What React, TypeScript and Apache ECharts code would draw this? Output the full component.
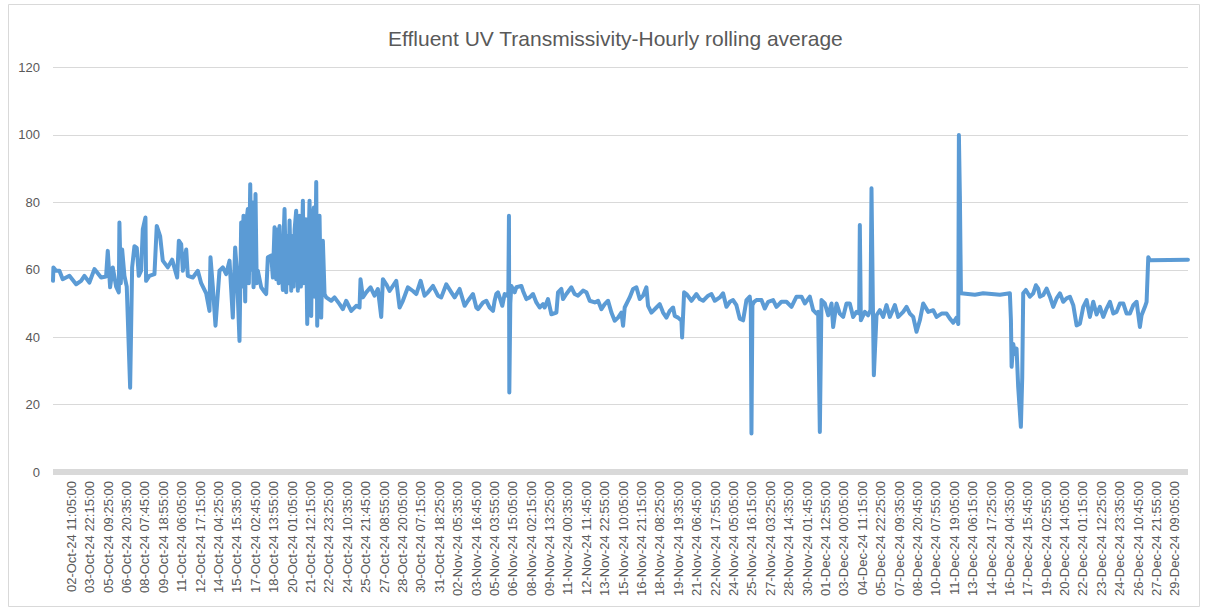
import React, { useEffect, useRef } from "react";
import * as echarts from "echarts";

const TITLE = "Effluent UV Transmissivity-Hourly rolling average";

// x axis: minutes after 30-Sep-24 23:55, one label every 2110 minutes (35 h 10 min)
const ORIGIN_UTC = Date.UTC(2024, 8, 30, 23, 55);
const LABEL_STEP_MIN = 2110;
const X_MAX_MIN = 130210;
const MONTHS = ["Jan", "Feb", "Mar", "Apr", "May", "Jun", "Jul", "Aug", "Sep", "Oct", "Nov", "Dec"];

const Y_MIN = 0;
const Y_MAX = 120;
const Y_STEP = 20;

// hours after origin, and UV transmissivity values (%)
const hoursOct = [
  0, 0.8, 5.9, 12.2, 18.6, 31.4, 44.2, 53.7, 60.1, 69.6, 79.2, 92, 101.5, 104.7, 109.2, 114.3, 120.7, 125.8, 127,
  129.6, 132.2, 136.6, 141, 147.5, 151.3, 155.7, 160.2, 164, 168.5, 171.7, 176.8, 178, 184.4, 194, 198.4, 204.8,
  209.9, 219.5, 227.8, 237.4, 240.6, 245.1, 248.3, 254.7, 257.8, 267.4, 276.9, 283.3, 292.9, 299.2, 301.1, 305.6,
  310.7, 318.3, 324.7, 331.1, 337.5, 343.8, 348.3, 351.5,
  356.6, 359.8, 361.5, 364.2, 367.5, 369.5, 372.5, 374.5, 377.1, 379.5, 381, 383.4, 385, 387.2, 389.5, 391.6,
  398.1, 402.5, 407.6, 410.8, 417.2,
  420.4, 423.6, 426.8, 430, 431.5, 433.2, 434.8, 436.4, 439.5, 441, 442.7, 445.9, 448, 450, 452.3, 455.5, 458, 460,
  462, 465, 468.2, 471.4, 474, 477.8, 479.5, 481, 483.5, 486.1, 488, 490.5, 493.7, 496, 498.8, 500.8, 503.3, 505.2,
  507.5, 509.6, 512.8, 516,
  519.2, 522.4, 532, 538.3, 547.9, 554.2, 560.6, 570.2, 579.8, 586.1, 588, 592.5, 598.9, 607.2, 614.8, 621.2, 627.6,
  630.8, 637.2, 643.5, 656.3, 662.7, 669, 678.6, 688.2, 694.6, 702.9, 710.5, 716.9, 726.5, 736, 742.4,
];
const uvtOct = [
  56.7, 60.7, 59.7, 59.7, 57.2, 58.2, 55.7, 56.7, 58.2, 56.2, 60.2, 57.7, 58, 65.6, 54.8, 60.7, 55, 53.3, 74,
  56, 66, 58.2, 55, 25, 60.7, 67, 66.5, 58.2, 59.7, 72, 75.5, 56.7, 58.2, 58.7, 73, 70,
  62.7, 60.7, 63, 57.7, 68.6, 67.6, 59.7, 66, 58.2, 57.7, 59.7, 56, 53, 47.8, 63.7, 55,
  43.4, 59.7, 60.7, 58.7, 62.7, 45.8, 66.6, 59.7,
  38.9, 74, 55, 76, 50.6, 74, 78, 56, 85.4, 60, 80, 54.8, 58, 82.5, 56, 59.7,
  54.8, 53.8, 52.8, 63.7, 64.2,
  57.7, 72.6, 57.2, 72, 56, 73, 58, 63.7, 54, 70, 78, 53.3, 70, 56, 74.6, 53.8, 70, 55,
  72, 77.5, 53.8, 76, 55, 80.5, 56, 65, 75, 43.9, 62, 80.5, 46.3, 74, 78.5, 52, 86, 43.4,
  72, 76, 45.8, 68.6,
  52.8, 51.8, 50.8, 51.8, 49.8, 48.3, 50.8, 47.8, 49.3, 48.8, 57.2, 51.8, 53.3, 54.8, 52.3, 54.3, 46,
  57.2, 55.7, 53.7, 56.7, 48.8, 50.8, 54.8, 53.7, 52.8, 56.7, 52.3, 53.3, 55.2, 52.3, 51.8,
];

const hoursNov = [
  752, 761.6, 767.9, 777.5, 787.1, 793.4, 803, 809.4, 812.6, 822.2, 828.5, 834.9, 841.3, 844.4, 847.6, 850.8, 854,
  859.1, 863.5, 868, 870.6, 871.8, 872.5, 874.4, 876.3, 882.7, 885.9, 895.5, 898.7, 905.1, 911.4, 917.8, 924.2,
  930.5, 936.9, 940.1, 946.5, 952.9, 962.5, 965.6, 972, 975.2, 981.6, 991.2, 997.5, 1003.9, 1013.5, 1019.9, 1026.2,
  1035.8, 1042.2, 1048.6, 1054.9, 1061.3, 1067.7, 1074, 1080.4, 1086.8, 1090, 1093.1, 1102.7, 1109.1, 1115.5,
  1121.8, 1128.2, 1134.6, 1137.8, 1144.2, 1153.8, 1160.1, 1166.5, 1172.9, 1179.2, 1185.6, 1188.8, 1195.2, 1201.6,
  1202.9, 1206.7, 1211.2, 1220.8, 1230.3, 1236.7, 1243.1, 1252.7, 1259, 1265.4, 1275, 1281.2, 1287.6, 1294, 1300.3,
  1306.7, 1313.1, 1319.5, 1325.9, 1332.2, 1334.2, 1335.5, 1337.3, 1340.5, 1345, 1354.6, 1360.9, 1367.3, 1376.9,
  1383.3, 1392.8, 1402.4, 1412, 1421.6, 1431.2, 1437.5, 1447.1, 1453.5, 1459.9, 1463,
];
const uvtNov = [
  55.7, 53.3, 51.8, 54.3, 49.3, 50.8, 52.8, 48.8, 48.3, 50.3, 50.8, 48.8, 47.8, 50.8, 52.8, 53.3, 51.8,
  49.3, 52.8, 52.3, 53.3, 76, 23.6, 50, 55.2, 53.3, 54.8, 55.2, 53.7, 51.3, 51.8, 52.8, 50.3,
  48.8, 49.8, 48.8, 51.3, 46.8, 47.3, 53.3, 54.3, 51.3, 52.8, 54.8, 52.8, 52.3, 53.8, 53.3, 50.8,
  50.3, 50.8, 48.3, 49.8, 50.8, 47.3, 44.9, 45.8, 47.3, 43.4, 48.8, 51.8, 54.3, 54.8,
  51.3, 52.3, 54.8, 49.3, 47.3, 48.8, 49.8, 47.3, 45.8, 47.8, 48.8, 46.3, 45.8, 44.9,
  39.9, 53.3, 52.8, 50.8, 52.8, 51.3, 50.8, 52.3, 52.8, 50.8, 51.8, 53, 49, 50.5, 51,
  49.5, 45.5, 45, 51, 52, 49, 11.4, 49.5, 50.5, 51, 51, 48.5, 50.5, 51,
  49, 50.5, 50.5, 49, 52, 52, 50, 52, 48, 47, 47.5,
];

const hoursDec = [
  1466.2, 1469.4, 1475.8, 1482.2, 1488.6, 1491.7, 1498.1, 1504.4, 1510.8, 1517.2, 1523.5, 1529.9, 1536.3, 1541.4,
  1542.7, 1544.6, 1552.3, 1558.6, 1563.1, 1565, 1567.6, 1569.5, 1574.6, 1581, 1587.3, 1593.7, 1600.1, 1609.7, 1616,
  1625.6, 1632, 1638.4, 1644.8, 1651.1, 1657.5, 1663.9, 1673.5, 1683, 1689.4, 1699, 1708.6, 1714.9, 1721.3, 1727.7,
  1730.9, 1732.1, 1734, 1736, 1762.8, 1778.5, 1810.5, 1829.6, 1831.6, 1832.9, 1836, 1839.2, 1842.4, 1845.5, 1850.6,
  1853.2, 1855.1, 1860.2, 1867.9, 1874.2, 1879.4, 1883.8, 1887, 1893.4, 1899.8, 1906.1, 1912.5, 1918.9, 1925.3,
  1931.6, 1938, 1944.4, 1950.8, 1957.2, 1963.5, 1969.9, 1976.3, 1982.6, 1989, 1995.4, 2001.8, 2008.1, 2014.5,
  2020.9, 2027.3, 2033.6, 2040, 2046.4, 2052.8, 2059.1, 2065.5, 2071.9, 2078.2, 2081.4, 2087.8, 2091, 2094.2,
  2097.4, 2170,
];
const uvtDec = [
  11.9, 51, 50, 46.5, 50, 43, 50, 47, 46, 50, 50, 46, 47.5, 47,
  73.3, 45, 47.5, 46.5, 48, 84.2, 50, 28.7, 46.5, 48, 46, 49.5, 46, 49.5, 46,
  47.5, 49, 47, 46, 41.6, 45, 50, 47.5, 48, 46, 47, 47, 45.5, 44.3, 45.8,
  43.9, 100, 81.9, 53, 52.6, 53, 52.6, 53, 45, 31.2, 38, 35, 36.6, 25.2, 13.4,
  28, 53, 54, 52, 53, 55.4, 54.4, 52, 52.5, 54.4, 52, 49, 51.5, 53,
  50.5, 51.5, 52, 49.5, 43.5, 44, 49, 51, 46, 50.5, 46.7, 49, 46, 48.5,
  50.5, 47, 47.5, 50, 50, 47, 47, 49.5, 50.5, 43, 46.5, 49, 50.5, 63.7,
  62.8, 63,
];

function pad(n: number): string {
  return String(n).padStart(2, "0");
}

function formatTick(v: number): string {
  const m = Math.round(v / 5) * 5;
  const d = new Date(ORIGIN_UTC + m * 60000);
  return `${pad(d.getUTCDate())}-${MONTHS[d.getUTCMonth()]}-${pad(d.getUTCFullYear() % 100)} ${pad(
    d.getUTCHours()
  )}:${pad(d.getUTCMinutes())}:00`;
}

function buildData(): [number, number][] {
  const hours = [...hoursOct, ...hoursNov, ...hoursDec];
  const vals = [...uvtOct, ...uvtNov, ...uvtDec];
  return hours.map((h, i) => [h * 60, vals[i]]);
}

const FONT = "'Liberation Sans', Arial, sans-serif";

export default function App() {
  const ref = useRef<HTMLDivElement>(null);

  useEffect(() => {
    if (!ref.current) return;
    const chart = echarts.init(ref.current, undefined, { renderer: "svg" });
    chart.setOption({
      animation: false,
      backgroundColor: "#ffffff",
      textStyle: { fontFamily: FONT },
      title: {
        text: TITLE,
        left: 383,
        top: 23,
        textStyle: { color: "#595959", fontSize: 21, fontWeight: "normal", fontFamily: FONT },
      },
      graphic: [
        {
          type: "rect",
          silent: true,
          z: -10,
          shape: { x: 8.5, y: 4.5, width: 1191, height: 602 },
          style: { fill: "none", stroke: "#d9d9d9", lineWidth: 1 },
        },
      ],
      grid: { left: 53, right: 20, top: 67.5, bottom: 137, containLabel: false },
      xAxis: {
        type: "value",
        min: 0,
        max: X_MAX_MIN,
        interval: LABEL_STEP_MIN,
        axisLine: { show: true, lineStyle: { color: "#d9d9d9", width: 6, cap: "butt" } },
        axisTick: { show: false },
        splitLine: { show: false },
        axisLabel: {
          rotate: 90,
          margin: 9,
          color: "#595959",
          fontSize: 13,
          fontFamily: FONT,
          showMinLabel: false,
          showMaxLabel: false,
          formatter: (v: number) => formatTick(v),
        },
      },
      yAxis: {
        type: "value",
        min: Y_MIN,
        max: Y_MAX,
        interval: Y_STEP,
        axisLine: { show: false },
        axisTick: { show: false },
        splitLine: { lineStyle: { color: "#d9d9d9", width: 1 } },
        axisLabel: { color: "#595959", fontSize: 13, margin: 13, fontFamily: FONT },
      },
      series: [
        {
          type: "line",
          data: buildData(),
          showSymbol: false,
          symbol: "none",
          lineStyle: { color: "#5B9BD5", width: 4, cap: "round", join: "round" },
          itemStyle: { color: "#5B9BD5" },
        },
      ],
    });
    return () => chart.dispose();
  }, []);

  return (
    <div
      ref={ref}
      style={{ position: "absolute", left: 0, top: 0, width: 1208, height: 609, background: "#fff" }}
    />
  );
}
